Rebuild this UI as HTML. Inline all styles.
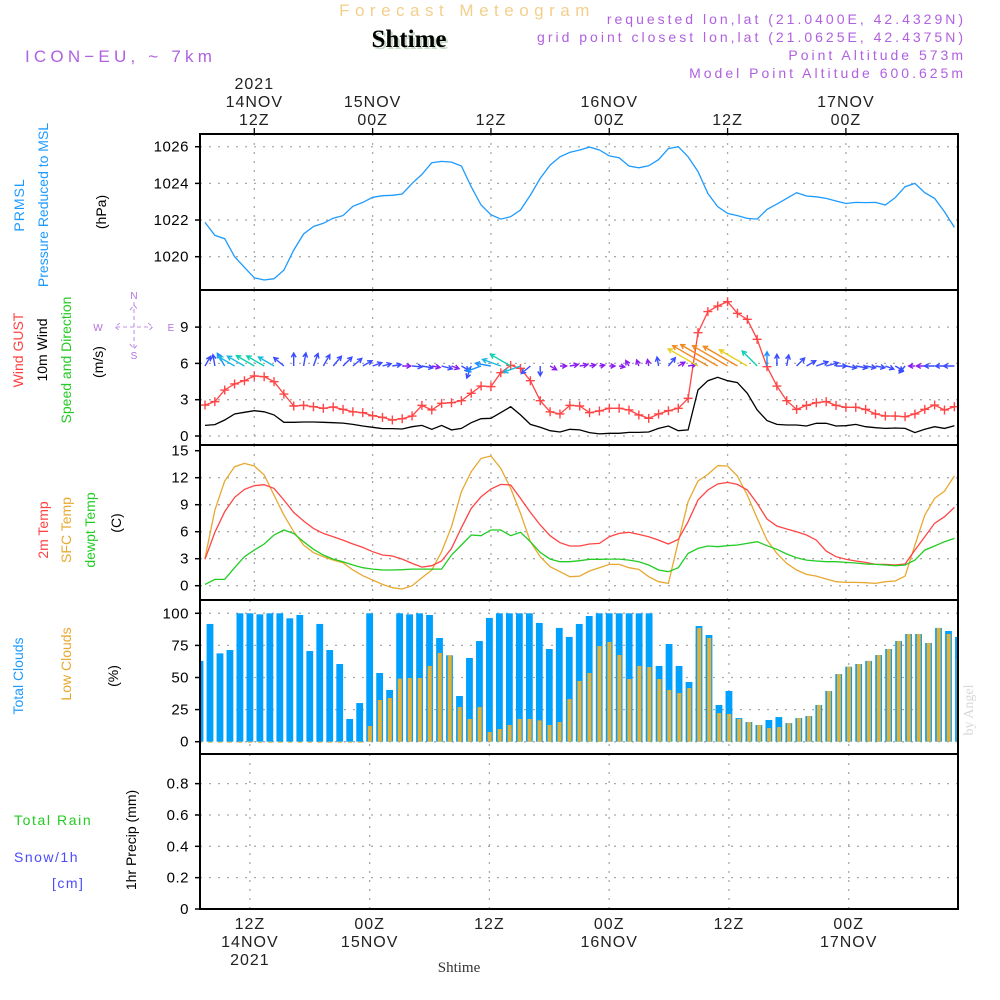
<!DOCTYPE html>
<html><head><meta charset="utf-8"><style>
html,body{margin:0;padding:0;background:#fff;}
svg{display:block;font-family:"Liberation Sans",sans-serif;}
</style></head><body>
<svg id="chart" width="1000" height="1000" viewBox="0 0 1000 1000" xmlns="http://www.w3.org/2000/svg">
<text x="467" y="16" text-anchor="middle" font-size="17" fill="#f3cf8c" letter-spacing="5.5">Forecast Meteogram</text>
<text x="411" y="49" text-anchor="middle" font-size="25" font-weight="bold" font-family="Liberation Serif,serif" fill="#c8d8c8">Shtime</text>
<text x="409" y="47" text-anchor="middle" font-size="25" font-weight="bold" font-family="Liberation Serif,serif" fill="#000">Shtime</text>
<text x="25" y="62" font-size="17" fill="#b060e0" letter-spacing="4.2">ICON−EU, ~ 7km</text>
<g font-size="14" fill="#b060e0" text-anchor="end" letter-spacing="3">
<text x="966" y="24">requested lon,lat (21.0400E, 42.4329N)</text>
<text x="966" y="42">grid point closest lon,lat (21.0625E, 42.4375N)</text>
<text x="966" y="60">Point Altitude 573m</text>
<text x="966" y="78">Model Point Altitude 600.625m</text>
</g>
<g font-size="14">
<text transform="translate(24,205) rotate(-90)" text-anchor="middle" fill="#1e9bff" letter-spacing="1">PRMSL</text>
<text transform="translate(48,205) rotate(-90)" text-anchor="middle" fill="#1e9bff">Pressure Reduced to MSL</text>
<text transform="translate(106,212) rotate(-90)" text-anchor="middle" fill="#000">(hPa)</text>
<text transform="translate(23,350) rotate(-90)" text-anchor="middle" fill="#ff4040">Wind GUST</text>
<text transform="translate(47,350) rotate(-90)" text-anchor="middle" fill="#000">10m Wind</text>
<text transform="translate(71,360) rotate(-90)" text-anchor="middle" fill="#22cc22">Speed and Direction</text>
<text transform="translate(103,362) rotate(-90)" text-anchor="middle" fill="#000">(m/s)</text>
<text transform="translate(48,530) rotate(-90)" text-anchor="middle" fill="#ff4040">2m Temp</text>
<text transform="translate(71,530) rotate(-90)" text-anchor="middle" fill="#e8a830">SFC Temp</text>
<text transform="translate(95,530) rotate(-90)" text-anchor="middle" fill="#22cc22">dewpt Temp</text>
<text transform="translate(121,523) rotate(-90)" text-anchor="middle" fill="#000">(C)</text>
<text transform="translate(23,676) rotate(-90)" text-anchor="middle" fill="#1e9bff">Total Clouds</text>
<text transform="translate(71,664) rotate(-90)" text-anchor="middle" fill="#e8a830">Low Clouds</text>
<text transform="translate(118,676) rotate(-90)" text-anchor="middle" fill="#000">(%)</text>
<text transform="translate(136,840) rotate(-90)" text-anchor="middle" fill="#000">1hr Precip (mm)</text>
<text x="14" y="825" fill="#22cc22" letter-spacing="1.6">Total  Rain</text>
<text x="14" y="862" fill="#4a4aff" letter-spacing="1.5">Snow/1h</text>
<text x="52" y="888" fill="#4a4aff" letter-spacing="1.5">[cm]</text>
</g>
<g fill="#b070e0" stroke="#b070e0" font-size="10">
<text x="134" y="299" text-anchor="middle" stroke="none">N</text>
<text x="134" y="359" text-anchor="middle" stroke="none">S</text>
<text x="98" y="331" text-anchor="middle" stroke="none">W</text>
<text x="171" y="331" text-anchor="middle" stroke="none">E</text>
<path d="M134 302 V350 M116 327 H152 M130 310 L134 305 L138 310 M130 344 L134 349 L138 344 M120 323 L115 327 L120 331 M148 323 L153 327 L148 331" fill="none" stroke-width="0.8" stroke-dasharray="4,3"/>
</g>
<text transform="translate(973,710) rotate(-90)" text-anchor="middle" font-size="14" font-family="Liberation Serif,serif" fill="#d8d8d8">by Angel</text>
<text x="459" y="972" text-anchor="middle" font-size="15" font-family="Liberation Serif,serif" fill="#333">Shtime</text>
<g id="plot"></g>
</svg>
<script>
// ---- data (hourly from 07Z 14NOV 2021) ----
const pressure = [1021.87,1021.16,1020.98,1020.0,1019.42,1018.85,1018.73,1018.8,1019.27,1020.36,1021.24,1021.65,1021.82,1022.1,1022.24,1022.75,1022.96,1023.24,1023.33,1023.35,1023.42,1024.0,1024.49,1025.13,1025.2,1025.16,1024.95,1023.82,1022.82,1022.29,1022.05,1022.18,1022.55,1023.36,1024.27,1025.0,1025.45,1025.69,1025.82,1025.98,1025.82,1025.5,1025.4,1024.95,1024.85,1024.96,1025.3,1025.9,1026.0,1025.45,1024.64,1023.45,1022.73,1022.36,1022.24,1022.09,1022.05,1022.58,1022.87,1023.18,1023.49,1023.31,1023.27,1023.18,1023.04,1022.9,1022.96,1022.95,1022.96,1022.82,1023.22,1023.82,1024.0,1023.49,1023.18,1022.45,1021.6];
const gust = [2.56,2.84,3.8,4.3,4.57,4.96,4.9,4.49,3.47,2.48,2.53,2.42,2.29,2.4,2.2,2.0,1.93,1.68,1.54,1.32,1.43,1.65,2.53,2.15,2.7,2.75,2.92,3.53,4.13,4.08,5.23,5.84,5.59,4.57,2.92,2.0,1.82,2.53,2.48,1.93,2.07,2.29,2.29,2.15,1.74,1.46,1.82,2.09,2.29,3.11,8.54,10.28,10.74,11.1,10.14,9.64,7.99,5.73,4.13,2.92,2.2,2.53,2.75,2.84,2.53,2.37,2.37,2.2,1.82,1.65,1.65,1.6,1.82,2.2,2.56,2.15,2.42];
const wind = [0.88,0.94,1.32,1.82,1.96,2.09,2.0,1.74,1.13,1.13,1.16,1.16,1.13,1.1,1.07,0.96,0.83,0.72,0.61,0.61,0.58,0.77,0.88,0.55,0.88,0.5,0.63,1.1,1.43,1.46,1.93,2.42,1.74,0.96,0.72,0.44,0.33,0.55,0.5,0.28,0.17,0.22,0.22,0.3,0.3,0.33,0.63,0.83,0.44,0.5,3.8,4.57,4.85,4.57,4.41,3.53,2.15,1.27,0.96,0.91,0.91,0.83,1.05,1.05,0.83,0.85,0.96,0.77,0.69,0.63,0.66,0.63,0.28,0.55,0.77,0.63,0.85];
const windDir = [30,350,330,300,300,300,300,300,310,0,10,20,30,40,45,50,60,70,75,80,90,95,100,100,105,110,120,200,250,280,290,300,250,230,180,120,90,80,80,80,80,90,100,330,340,350,350,40,60,80,300,300,300,300,300,300,315,0,0,10,45,60,70,75,90,100,100,100,100,110,120,220,270,270,270,270,270];
const temp2m = [2.93,5.93,8.22,9.81,10.7,11.11,11.22,10.81,9.52,8.15,7.19,6.37,5.81,5.44,5.07,4.63,4.26,3.78,3.41,3.3,2.96,2.48,2.07,2.22,2.74,4.15,6.44,8.59,9.89,10.74,11.26,11.19,9.7,8.15,6.74,5.56,4.78,4.41,4.41,4.63,4.7,5.44,5.81,5.93,5.7,5.44,5.07,4.63,5.15,7.11,9.52,10.63,11.3,11.48,11.26,10.63,9.15,7.41,6.63,6.3,6.0,5.63,5.07,3.85,3.22,2.93,2.74,2.59,2.37,2.37,2.3,2.41,3.96,5.44,6.93,7.67,8.7];
const sfcTemp = [3.04,8.41,11.63,13.22,13.59,13.3,12.3,10.07,7.85,6.0,4.52,3.67,3.22,2.85,2.56,1.74,1.11,0.63,0.15,-0.22,-0.37,0.0,0.89,1.74,3.78,6.56,10.44,12.67,14.15,14.41,13.04,10.81,8.04,4.89,3.22,2.11,1.56,1.0,1.07,1.63,2.0,2.37,2.37,2.0,1.81,1.0,0.44,0.26,4.89,9.33,11.63,12.37,13.33,13.3,12.19,10.07,7.48,5.07,3.59,2.48,1.74,1.26,1.07,0.74,0.44,0.37,0.37,0.33,0.26,0.44,0.52,1.07,4.5,7.85,9.7,10.5,12.2];
const dewpt = [0.15,0.7,0.7,2.0,3.22,3.96,4.63,5.63,6.19,5.81,4.89,4.04,3.41,2.96,2.67,2.3,2.0,1.85,1.74,1.74,1.78,1.85,1.85,1.85,1.85,3.41,4.52,5.63,5.56,6.19,6.19,5.56,5.93,4.89,3.7,2.96,2.67,2.67,2.78,2.93,2.93,2.96,2.96,2.85,2.67,2.3,1.74,1.56,2.0,3.59,4.15,4.41,4.33,4.44,4.52,4.7,4.89,4.44,4.04,3.52,3.11,2.85,2.74,2.67,2.67,2.59,2.52,2.41,2.37,2.3,2.22,2.3,2.85,3.96,4.41,4.89,5.26];
const totalClouds = [62.9,91.7,68.8,71.4,100,100,99.2,100,100,96.1,98.7,70.6,91.7,71.4,60.5,17.7,30.1,100,53.5,40.3,100,99.2,100,98.7,80.8,67.3,35.6,65.2,78.4,96.4,100,100,100,100,92.5,72.2,88.6,81.6,91.7,97.9,100,100,100,100,100,100,59,76.1,59,46.5,90.1,83.1,28.6,39.5,18.4,15.3,13,16.9,19.2,14.5,18.4,20,28.6,39.5,52.7,58.4,60.5,62.9,67.5,72.2,78.4,83.9,83.9,76.9,88.6,86.2,81.6];
const lowClouds = [0,0,0,0,0,0,0,0,0,0,0,0,0,0,0,0,0,12.2,32.5,34,49.1,49.6,49.6,59,69.1,67.3,27,17.7,27,7.5,9.9,13,17.7,17.7,16.6,13,15.3,33.2,47.3,53.5,74.5,77.7,67.5,48.8,59,58.2,48.8,40.3,37.9,41.8,88.6,80.8,22.3,21.6,17.7,15.3,13,10.6,11.4,14.5,18.4,20,28.6,39.5,52.7,58.4,60.5,62.9,67.5,72.2,78.4,83.9,83.9,76.9,88.6,83.9,64.4];
const precip = [];
const pTicks = [1020,1022,1024,1026];
const wTicks = [0,3,6,9];
const tTicks = [0,3,6,9,12,15];
const cTicks = [0,25,50,75,100];
const rTicks = [0,0.2,0.4,0.6,0.8];
const rTickLabels = ["0","0.2","0.4","0.6","0.8"];
const topLabels = [["2021","14NOV","12Z"],["15NOV","00Z"],["12Z"],["16NOV","00Z"],["12Z"],["17NOV","00Z"]];
const bottomLabels = [["12Z","14NOV","2021"],["00Z","15NOV"],["12Z"],["00Z","16NOV"],["12Z"],["00Z","17NOV"]];

// ---- scales ----
const NS='http://www.w3.org/2000/svg';
const plot=document.getElementById('plot');
const X0=200, X1=958;
const xL = i => 205 + i*9.86;      // upper panels
const xB = i => 200 + i*9.98;      // cloud/precip panels
const yP = v => 256.7 - (v-1020)*18.33;
const yW = v => 436 - v*12.1;
const yT = v => 585.7 - v*9;
const yC = v => 741.7 - v*1.284;
const yR = v => 909 - v*156.7;
function el(tag, attrs, parent){const e=document.createElementNS(NS,tag);for(const k in attrs)e.setAttribute(k,attrs[k]);(parent||plot).appendChild(e);return e;}

const defs=el('defs',{});
[['c1',134,290],['c2',290,445],['c3',445,600],['c4',600,754],['c5',754,909]].forEach(([id,a,b])=>{const cp=el('clipPath',{id:id},defs);el('rect',{x:X0,y:a,width:X1-X0,height:b-a},cp);});

function gridH(vals, yf, x0, x1, name){vals.forEach(v=>{const l=el('line',{x1:x0,x2:x1,y1:yf(v),y2:yf(v),stroke:'#aaa','stroke-width':1.3,'stroke-dasharray':'2,7'});

});}
function gridV(xf, y0, y1, name){for(let k=0;k<6;k++){const x=xf(5+12*k);const l=el('line',{x1:x,x2:x,y1:y0,y2:y1,stroke:'#aaa','stroke-width':1.3,'stroke-dasharray':'2,7'});

}}
function ticks(vals, labels, yf, name){vals.forEach((v,i)=>{const t=el('text',{x:189,y:yf(v)+5,'text-anchor':'end','font-size':15,fill:'#000','letter-spacing':0.5});t.textContent=labels[i];


el('line',{x1:195,x2:200,y1:yf(v),y2:yf(v),stroke:'#000','stroke-width':1.5});});}

gridH(pTicks,yP,X0,X1,'pressure-gridline'); gridV(xL,134,290,'time-gridline');
gridH(wTicks,yW,X0,X1,'wind-gridline'); gridV(xL,290,445,'time-gridline');
gridH(tTicks.slice(0,5),yT,X0,X1,'temp-gridline'); gridV(xL,445,600,'time-gridline');
gridH(cTicks,yC,X0,X1,'cloud-gridline'); gridV(xB,600,754,'time-gridline');
gridH(rTicks.slice(1),yR,X0,X1,'precip-gridline'); gridV(xB,754,909,'time-gridline');

ticks(pTicks,pTicks.map(String),yP,'pressure-tick');
ticks(wTicks,wTicks.map(String),yW,'wind-tick');
ticks(tTicks,tTicks.map(String),yT,'temp-tick');
ticks(cTicks,cTicks.map(String),yC,'cloud-tick');
ticks(rTicks,rTickLabels,yR,'precip-tick');

function line(vals, xf, yf, color, clip, name, w){const d=vals.map((v,i)=>(i?'L':'M')+xf(i).toFixed(1)+' '+yf(v).toFixed(1)).join(' ');
const p=el('path',{d:d,fill:'none',stroke:color,'stroke-width':w||1.3,'clip-path':'url(#'+clip+')'});

return p;}

line(pressure,xL,yP,'#1e9bff','c1','pressure-line');
line(wind,xL,yW,'#000','c2','wind-speed-line');
line(gust,xL,yW,'#ff4545','c2','gust-line');
gust.forEach((v,i)=>{const x=xL(i),y=yW(v);const m=el('path',{d:`M${x-4.5} ${y} H${x+4.5} M${x} ${y-4.5} V${y+4.5}`,stroke:'#ff4545','stroke-width':1.4,'clip-path':'url(#c2)'});

});
function arrowColor(s){if(s<0.6)return '#8a1cf0';if(s<1.2)return '#3a4cff';if(s<1.6)return '#1a90ff';if(s<2.0)return '#18b8e0';if(s<2.6)return '#10d0b0';if(s<3.3)return '#80d040';if(s<4.0)return '#e8d020';return '#f08a20';}
wind.forEach((s,i)=>{const a=windDir[i]*Math.PI/180;const L=4+8*s;const x0=xL(i),y0=366;const x1=x0+L*Math.sin(a),y1=y0-L*Math.cos(a);
const hx1=x1-5*Math.sin(a-0.5),hy1=y1+5*Math.cos(a-0.5),hx2=x1-5*Math.sin(a+0.5),hy2=y1+5*Math.cos(a+0.5);
const c=arrowColor(s);
const ar=el('path',{d:`M${x0.toFixed(1)} ${y0} L${x1.toFixed(1)} ${y1.toFixed(1)} M${hx1.toFixed(1)} ${hy1.toFixed(1)} L${x1.toFixed(1)} ${y1.toFixed(1)} L${hx2.toFixed(1)} ${hy2.toFixed(1)}`,fill:'none',stroke:c,'stroke-width':1.4,'clip-path':'url(#c2)'});

});
line(sfcTemp,xL,yT,'#e8a830','c3','sfc-temp-line');
line(temp2m,xL,yT,'#ff4545','c3','t2m-line');
line(dewpt,xL,yT,'#22cc22','c3','dewpt-line');
totalClouds.forEach((v,i)=>{const x=xB(i);const r=el('rect',{x:x-3.4,y:yC(v),width:6.8,height:yC(0)-yC(v),fill:'#00a0ff','clip-path':'url(#c4)'});

});
lowClouds.forEach((v,i)=>{const x=xB(i);const r=el('rect',{x:x-1.8,y:yC(v),width:4,height:Math.max(1,yC(0)-yC(v)),fill:'#e8b030','clip-path':'url(#c4)'});

});
precip.forEach((v,i)=>{const x=xB(i);const r=el('rect',{x:x-3.4,y:yR(v),width:6.8,height:yR(0)-yR(v),fill:'#22cc22','clip-path':'url(#c5)'});

});
const zl=el('line',{x1:X0,x2:X1,y1:909,y2:909,stroke:'#000','stroke-width':2,'stroke-dasharray':'5,3'});



[[134,290,'pressure-panel'],[290,445,'wind-panel'],[445,600,'temp-panel'],[600,754,'cloud-panel'],[754,909,'precip-panel']].forEach(([a,b,n])=>{const r=el('rect',{x:X0,y:a,width:X1-X0,height:b-a,fill:'none',stroke:'#000','stroke-width':2});

});

topLabels.forEach((lines,k)=>{const x=xL(5+12*k);el('line',{x1:x,x2:x,y1:128,y2:134,stroke:'#000','stroke-width':1.3});
lines.forEach((s,j)=>{const t=el('text',{x:x,y:127-(lines.length-1-j)*18-2,'text-anchor':'middle','font-size':16,fill:'#222','letter-spacing':1});t.textContent=s;

});});
bottomLabels.forEach((lines,k)=>{const x=xB(5+12*k);
lines.forEach((s,j)=>{const t=el('text',{x:x,y:929+j*18,'text-anchor':'middle','font-size':16,fill:'#222','letter-spacing':1});t.textContent=s;

});});
</script>
</body></html>
